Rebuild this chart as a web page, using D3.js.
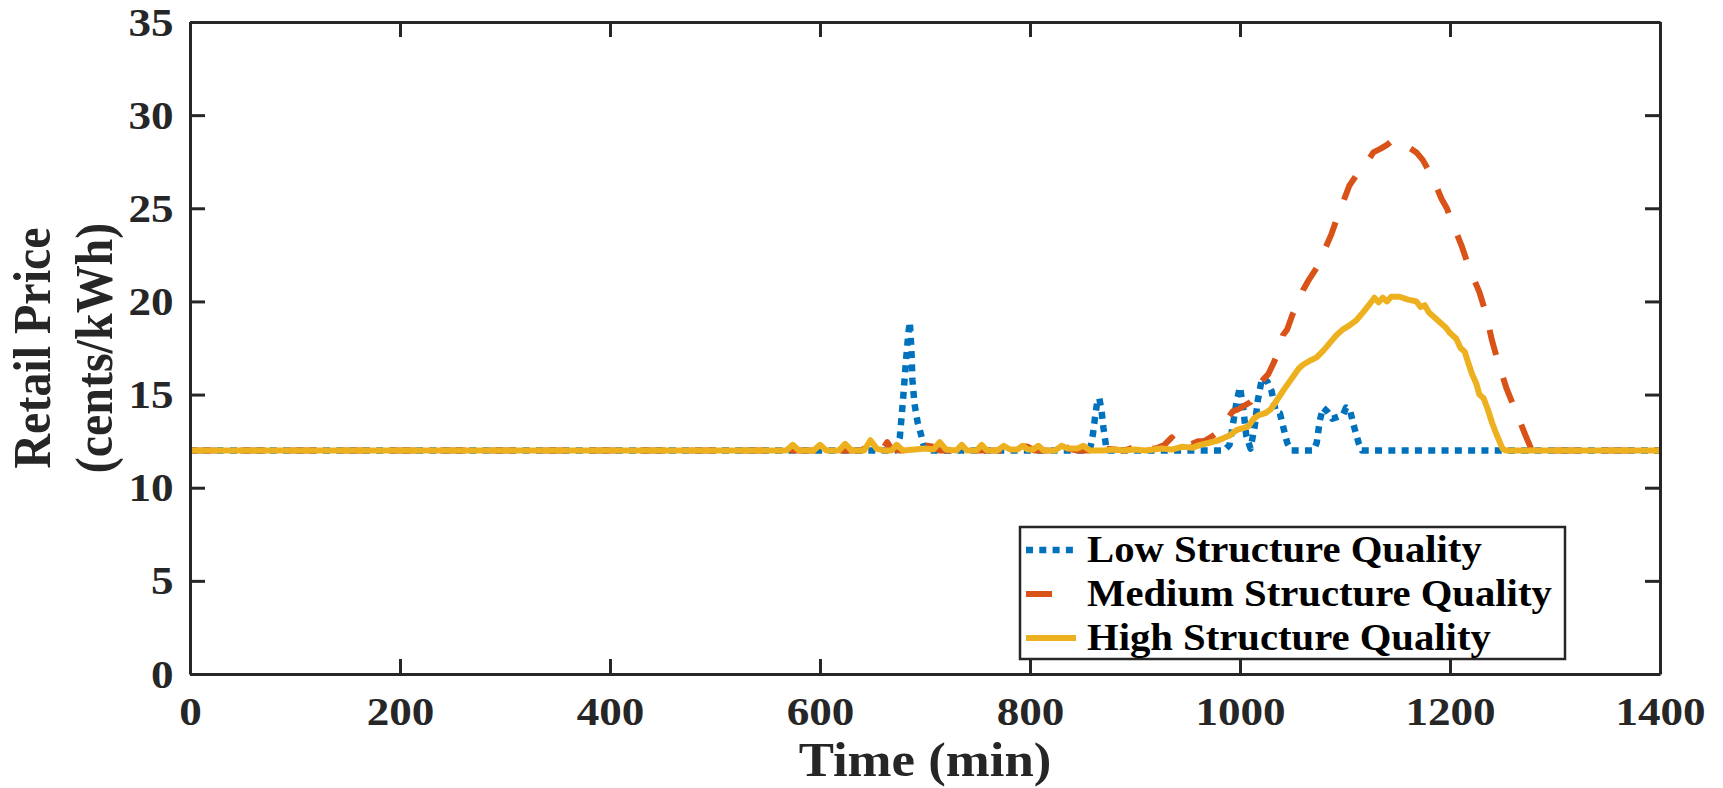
<!DOCTYPE html>
<html>
<head>
<meta charset="utf-8">
<script src="https://cdn.jsdelivr.net/npm/d3@7"></script>
<style>
  body { margin: 0; background: #fff; }
  text { font-family: "Liberation Serif", "Times New Roman", serif; font-weight: bold; }
</style>
</head>
<body>
<div id="chart"></div>
<script>
// axis ticks
var xTicks = [0, 200, 400, 600, 800, 1000, 1200, 1400];
var yTicks = [0, 5, 10, 15, 20, 25, 30, 35];

var seriesNames = ["Low Structure Quality", "Medium Structure Quality", "High Structure Quality"];

// low structure quality (min, cents/kWh)
var lowTime  = [0, 672, 676, 678, 680, 682, 684, 685.5, 687, 688, 690, 693, 696, 700,
                857, 860, 862, 864, 866, 868, 870, 873,
                985, 990, 993, 997, 1000, 1003, 1006, 1010, 1014, 1017, 1021, 1026, 1030, 1034, 1038, 1041, 1045, 1049,
                1070, 1073, 1076, 1079, 1083, 1088, 1093, 1098, 1101, 1105, 1109, 1113, 1116, 1400];
var lowPrice = [12, 12, 12.7, 14.0, 15.4, 16.9, 18.2, 18.9, 17.5, 15.8, 14.5, 13.5, 12.9, 12,
                12, 12.9, 13.8, 14.6, 14.8, 14.2, 13.2, 12,
                12, 12.3, 13.3, 14.7, 15.4, 14.3, 12.8, 12.1, 13.3, 14.7, 15.9, 15.7, 15.2, 14.1, 14.0, 13.3, 12.4, 12,
                12, 12.4, 13.6, 14.3, 14.1, 13.7, 13.8, 13.9, 14.3, 14.1, 13.2, 12.4, 12, 12];

// medium structure quality
var medTime  = [0, 640, 646, 652, 660, 664, 668, 676, 696, 702, 708, 714, 786, 792, 798, 804,
                824, 830, 836, 845, 862, 867, 872, 890, 900, 905, 910, 920, 928, 935, 940, 945, 949, 954, 960,
                966, 972, 977, 982, 987, 993, 998, 1004, 1010, 1016, 1022, 1027, 1032, 1036, 1041, 1045, 1050,
                1055, 1060, 1066, 1073, 1080, 1087, 1092, 1098, 1104, 1110, 1118, 1127, 1134, 1140, 1146, 1152,
                1160, 1168, 1174, 1180, 1186, 1192, 1197, 1201, 1206, 1211, 1217, 1222, 1228, 1234, 1240, 1246,
                1254, 1262, 1272, 1278, 1400];
var medPrice = [12, 12, 12.3, 12, 12.1, 12.45, 12.1, 12, 12, 12.25, 12.2, 12, 12, 12.25, 12.2, 12,
                12, 12.5, 12.1, 12, 12, 12.45, 12.1, 12, 12.2, 12.4, 12.1, 12.1, 12.3, 12.7, 12.3, 12.4, 12.6, 12.35, 12.5,
                12.5, 12.7, 12.9, 13.3, 13.6, 14.1, 14.2, 14.4, 14.6, 15.2, 15.8, 16.1, 16.7, 17.2, 18.2, 18.5, 19.3,
                19.8, 20.6, 21.2, 21.8, 22.7, 23.6, 24.4, 25.3, 26.2, 26.7, 27.2, 28.0, 28.2, 28.4, 28.7, 28.6,
                28.3, 28.0, 27.6, 27.0, 26.3, 25.5, 25.0, 24.4, 23.7, 23.0, 22.0, 21.3, 20.5, 19.4, 17.9, 16.7,
                15.3, 14.2, 12.8, 12, 12];

// high structure quality
var highTime  = [0, 568, 574, 580, 594, 600, 606, 618, 624, 630, 642, 648, 654, 660, 668, 673, 679,
                 690, 700, 708, 714, 720, 730, 735, 740, 749, 754, 759, 769, 775, 781, 788, 793, 798, 803, 808, 813,
                 824, 830, 836, 845, 851, 857, 870, 880, 890, 900, 910, 925, 935, 945, 955, 962, 970, 977, 984, 990,
                 997, 1003, 1008, 1013, 1018, 1024, 1029, 1034, 1041, 1046, 1051, 1056, 1060, 1066, 1073, 1080, 1086,
                 1092, 1098, 1104, 1111, 1117, 1124, 1128, 1132, 1136, 1140, 1144, 1152, 1160, 1168, 1172, 1176,
                 1180, 1184, 1190, 1196, 1200, 1206, 1210, 1214, 1218, 1221, 1225, 1228, 1232, 1236, 1240, 1244,
                 1250, 1253, 1400];
var highPrice = [12, 12, 12.3, 12, 12, 12.3, 12, 12, 12.35, 12, 12, 12.55, 12.1, 12, 12, 12.3, 12,
                 12.05, 12.1, 12.05, 12.45, 12.05, 12, 12.3, 12, 12, 12.3, 12, 12, 12.25, 12.05, 12.05, 12.25, 12.05, 12.05, 12.25, 12,
                 12, 12.25, 12.1, 12.1, 12.25, 12, 12, 12.05, 12, 12.05, 12, 12.1, 12.05, 12.2, 12.15, 12.3, 12.4, 12.5, 12.65, 12.8,
                 13.1, 13.2, 13.3, 13.7, 13.9, 14.0, 14.2, 14.6, 15.2, 15.6, 16.0, 16.4, 16.6, 16.8, 17.0, 17.4, 17.8,
                 18.2, 18.5, 18.7, 19.0, 19.4, 19.9, 20.2, 19.95, 20.2, 20.0, 20.25, 20.25, 20.1, 20.0, 19.7, 19.8,
                 19.4, 19.2, 18.9, 18.6, 18.3, 18.0, 17.5, 17.3, 16.6, 16.1, 15.6, 15.0, 14.8, 14.2, 13.5, 12.9,
                 12.1, 12, 12];

var colors = ["#0072BD", "#D95319", "#EDB120"];
var dashes = ["7,6.3", "26,24", null];

makeChart();

function makeChart() {

    var width = 1723, height = 788;
    var mLeft = 190, mRight = 1660, mTop = 22, mBottom = 674;
    var SX = 1.1;   // text in the source figure is a bit wider than tall
    var ink = "#262626";

    var svg = d3.select("#chart")
      .append("svg")
        .attr("width", width)
        .attr("height", height)
        .style("background", "#fff");

    var x = d3.scaleLinear().domain([0, 1400]).range([mLeft, mRight]);
    var y = d3.scaleLinear().domain([0, 35]).range([mBottom, mTop]);

    svg.append("clipPath").attr("id", "plotclip")
      .append("rect")
        .attr("x", mLeft).attr("y", mTop)
        .attr("width", mRight - mLeft).attr("height", mBottom - mTop);

    // lines, low first so high ends on top
    var series = [
      d3.zip(lowTime, lowPrice),
      d3.zip(medTime, medPrice),
      d3.zip(highTime, highPrice)
    ];

    var line = d3.line()
      .x(function(d) { return x(d[0]); })
      .y(function(d) { return y(d[1]); });

    svg.append("g")
        .attr("clip-path", "url(#plotclip)")
      .selectAll("path")
      .data(series)
      .enter()
      .append("path")
        .attr("d", line)
        .attr("fill", "none")
        .attr("stroke", function(d, i) { return colors[i]; })
        .attr("stroke-width", function(d, i) { return i == 0 ? 6.5 : 6; })
        .attr("stroke-dasharray", function(d, i) { return dashes[i]; })
        .attr("stroke-linejoin", "round");

    // axes, ticks inward, box all around
    function styleAxis(g) {
      g.select(".domain").attr("stroke", ink).attr("stroke-width", 3);
      g.selectAll(".tick line").attr("stroke", ink).attr("stroke-width", 3);
      g.selectAll(".tick text")
        .attr("fill", ink)
        .style("font-size", "41px")
        .attr("transform", "scale(" + SX + ",1)");
    }

    svg.append("g")
        .attr("transform", "translate(0," + mBottom + ")")
        .call(d3.axisBottom(x).tickValues(xTicks).tickFormat(d3.format("d"))
          .tickSizeInner(-15).tickSizeOuter(0).tickPadding(22))
        .call(styleAxis);

    svg.append("g")
        .attr("transform", "translate(" + mLeft + ",0)")
        .call(d3.axisLeft(y).tickValues(yTicks).tickFormat(d3.format("d"))
          .tickSizeInner(-15).tickSizeOuter(0).tickPadding(15))
        .call(styleAxis);

    svg.append("g")
        .attr("transform", "translate(0," + mTop + ")")
        .call(d3.axisTop(x).tickValues(xTicks).tickFormat("")
          .tickSizeInner(-15).tickSizeOuter(0))
        .call(styleAxis);

    svg.append("g")
        .attr("transform", "translate(" + mRight + ",0)")
        .call(d3.axisRight(y).tickValues(yTicks).tickFormat("")
          .tickSizeInner(-15).tickSizeOuter(0))
        .call(styleAxis);

    // axis titles
    svg.append("text")
        .attr("transform", "translate(" + ((mLeft + mRight) / 2) + ",776) scale(" + SX + ",1)")
        .attr("text-anchor", "middle")
        .attr("fill", ink)
        .style("font-size", "48px")
        .text("Time (min)");

    var yTitle = ["Retail Price", "(cents/kWh)"];
    svg.selectAll(".ytitle")
      .data(yTitle)
      .enter()
      .append("text")
        .attr("class", "ytitle")
        .attr("transform", function(d, i) {
          return "translate(" + (i == 0 ? 50 : 112) + "," + ((mTop + mBottom) / 2) + ") scale(" + SX + ",1) rotate(-90)";
        })
        .attr("text-anchor", "middle")
        .attr("fill", ink)
        .style("font-size", "48px")
        .text(function(d) { return d; });

    // legend
    var legend = svg.append("g");
    legend.append("rect")
        .attr("x", 1020).attr("y", 527)
        .attr("width", 545).attr("height", 132)
        .attr("fill", "#fff")
        .attr("stroke", ink)
        .attr("stroke-width", 2.5);

    var rows = legend.selectAll(".row")
      .data(seriesNames)
      .enter()
      .append("g")
        .attr("class", "row")
        .attr("transform", function(d, i) { return "translate(0," + (562 + i * 44) + ")"; });

    rows.append("line")
        .attr("x1", 1026).attr("x2", 1076)
        .attr("y1", -12).attr("y2", -12)
        .attr("stroke", function(d, i) { return colors[i]; })
        .attr("stroke-width", function(d, i) { return i == 0 ? 6.5 : 6; })
        .attr("stroke-dasharray", function(d, i) { return dashes[i]; });

    rows.append("text")
        .attr("transform", "translate(1087,0) scale(" + SX + ",1)")
        .attr("fill", "#000")
        .style("font-size", "37px")
        .text(function(d) { return d; });
}
</script>
</body>
</html>
